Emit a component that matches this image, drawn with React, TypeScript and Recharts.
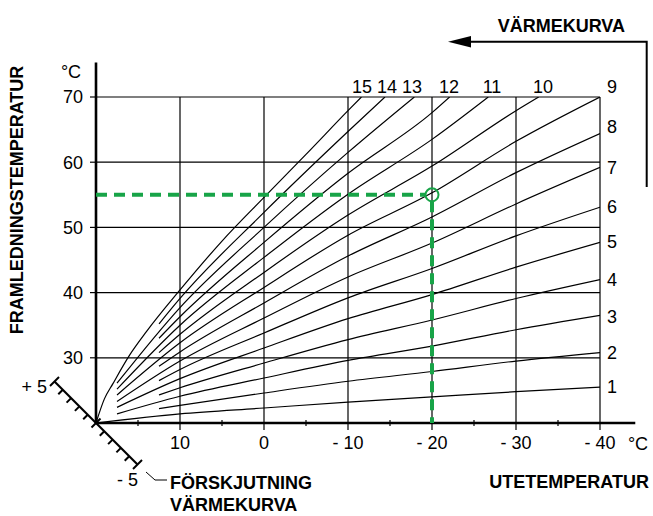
import React from 'react';
import { LineChart, Line, XAxis, YAxis, CartesianGrid, ReferenceLine, ReferenceDot } from 'recharts';

const FONT = '"Liberation Sans", Arial, Helvetica, sans-serif';
const GREEN = '#18a448';

// Outdoor temperature (x) ticks and flow temperature (y) ticks
const xTicks = [10, 0, -10, -20, -30, -40];
const xMinorTicks = [15, 5, -5, -15, -25, -35];
const yTicks = [30, 40, 50, 60, 70];

// Heating curves 1..15: [outdoor temp, flow temp]
const curve1 = [[20, 20], [10, 21.4], [0, 22.3], [-10, 23.2], [-20, 24.0], [-30, 24.8], [-40, 25.5]];
const curve2 = [[12.5, 22.2], [10, 22.7], [0, 24.6], [-10, 26.4], [-20, 27.9], [-30, 29.5], [-40, 30.8]];
const curve3 = [[17.5, 21.4], [10, 24.1], [0, 26.9], [-10, 29.6], [-20, 31.8], [-30, 34.3], [-40, 36.5]];
const curve4 = [[12.5, 24.3], [10, 25.4], [0, 29.2], [-10, 32.8], [-20, 35.8], [-30, 39.1], [-40, 42.0]];
const curve5 = [[17.5, 22.4], [10, 26.8], [0, 31.5], [-10, 36.0], [-20, 39.7], [-30, 43.9], [-40, 47.7]];
const curve6 = [[12.5, 26.5], [10, 28.2], [0, 33.8], [-10, 39.2], [-20, 43.7], [-30, 48.7], [-40, 53.1]];
const curve7 = [[17.5, 23.3], [10, 29.5], [0, 36.1], [-10, 42.4], [-20, 47.6], [-30, 53.6], [-40, 59.2]];
const curve8 = [[12.5, 28.7], [10, 30.9], [0, 38.4], [-10, 45.6], [-20, 51.6], [-30, 58.4], [-40, 64.4]];
const curve9 = [[17.5, 24.3], [10, 32.3], [0, 40.8], [-10, 48.8], [-20, 55.3], [-30, 63.2], [-40, 70]];
const curve10 = [[12.5, 30.8], [10, 33.6], [0, 43.1], [-10, 51.9], [-20, 59.4], [-30, 67.9], [-32.7, 70]];
const curve11 = [[17.5, 25.2], [10, 35.0], [0, 45.4], [-10, 55.1], [-20, 63.5], [-26.7, 70]];
const curve12 = [[12.5, 33.0], [10, 36.3], [0, 47.7], [-10, 58.3], [-20, 67.6], [-22.1, 70]];
const curve13 = [[17.5, 26.1], [10, 37.7], [0, 50.0], [-10, 61.5], [-17.9, 70]];
const curve14 = [[12.5, 35.2], [10, 39.1], [0, 52.3], [-10, 64.7], [-14.4, 70]];
const curve15 = [[20, 20], [19, 23.7], [18, 26.0], [16, 30.4], [14, 34.0], [10, 40.4], [5, 47.9], [0, 54.6], [-5, 61.2], [-10, 67.9], [-11.6, 70]];

const curves = [curve1, curve2, curve3, curve4, curve5, curve6, curve7, curve8, curve9, curve10, curve11, curve12, curve13, curve14, curve15];

// Example reading: outdoor -20 °C gives 55 °C flow
const exampleOutdoor = -20;
const exampleFlow = 55;

const toPoints = (c: number[][]) => c.map(([x, y]) => ({ x, y }));
const fmtX = (v: number) => (v < 0 ? `- ${-v}` : `${v}`);

const labelStyle: React.CSSProperties = { fontFamily: FONT, fontSize: 18, fill: '#000' };
const boldStyle: React.CSSProperties = { fontFamily: FONT, fontSize: 18, fontWeight: 'bold', fill: '#000' };

// curve number labels (pixel placement of annotation text)
const topLabels: [string, number][] = [['15', 362], ['14', 387], ['13', 412], ['12', 449], ['11', 492], ['10', 543], ['9', 612]];
const rightLabels: [string, number][] = [['8', 132.5], ['7', 173.5], ['6', 212.5], ['5', 248], ['4', 286], ['3', 322.5], ['2', 359], ['1', 393]];

function ShiftScale() {
  const ox = 96, oy = 423;
  const step = 8.3;
  const items: React.ReactNode[] = [];
  items.push(<line key="d" x1={ox - 5 * step} y1={oy - 5 * step} x2={ox + 5 * step} y2={oy + 5 * step} stroke="#000" strokeWidth={2.2} />);
  for (let i = -5; i <= 5; i++) {
    const cx = ox + i * step, cy = oy + i * step;
    if (i === 0 || Math.abs(i) === 5) {
      items.push(<line key={'c' + i} x1={cx - 4.5} y1={cy + 4.5} x2={cx + 4.5} y2={cy - 4.5} stroke="#000" strokeWidth={2} />);
    } else {
      items.push(<line key={'t' + i} x1={cx} y1={cy} x2={cx - 4.5} y2={cy + 4.5} stroke="#000" strokeWidth={2} />);
    }
  }
  return <g>{items}</g>;
}

export default function App() {
  return (
    <div style={{ position: 'absolute', left: 0, top: 0, width: 653, height: 516, background: '#fff' }}>
      <LineChart width={653} height={516} margin={{ top: 97, right: 53, bottom: 53, left: 56 }}>
        <CartesianGrid stroke="#000" strokeWidth={1.2} />
        <XAxis
          type="number"
          dataKey="x"
          domain={[-40, 20]}
          reversed
          allowDataOverflow
          ticks={xTicks}
          interval={0}
          tickFormatter={fmtX}
          axisLine={false}
          tickLine={{ stroke: '#000', strokeWidth: 1.2 }}
          tickSize={7}
          tickMargin={6}
          tick={{ fill: '#000', fontSize: 18, fontFamily: FONT }}
          height={40}
        />
        <YAxis
          type="number"
          dataKey="y"
          domain={[20, 70]}
          allowDataOverflow
          ticks={yTicks}
          interval={0}
          axisLine={false}
          tickLine={{ stroke: '#000', strokeWidth: 1.2 }}
          tickSize={6}
          tickMargin={7}
          tick={{ fill: '#000', fontSize: 18, fontFamily: FONT }}
          width={40}
        />
        {curves.map((c, i) => (
          <Line
            key={i}
            data={toPoints(c)}
            dataKey="y"
            type="monotone"
            stroke="#000"
            strokeWidth={1.2}
            dot={false}
            activeDot={false}
            isAnimationActive={false}
          />
        ))}
        <ReferenceLine segment={[{ x: 20, y: 20 }, { x: 20, y: 75.3 }]} stroke="#000" strokeWidth={2.6} ifOverflow="visible" />
        <ReferenceLine segment={[{ x: 20, y: 20 }, { x: -44.2, y: 20 }]} stroke="#000" strokeWidth={2.6} ifOverflow="visible" />
        {xMinorTicks.map((v) => (
          <ReferenceLine key={v} segment={[{ x: v, y: 19.55 }, { x: v, y: 20.45 }]} stroke="#000" strokeWidth={1.2} ifOverflow="visible" />
        ))}
        <ReferenceLine segment={[{ x: 20, y: exampleFlow }, { x: exampleOutdoor + 0.8, y: exampleFlow }]} stroke={GREEN} strokeWidth={4} strokeDasharray="11 7" ifOverflow="visible" />
        <ReferenceLine segment={[{ x: exampleOutdoor, y: exampleFlow - 1 }, { x: exampleOutdoor, y: 20 }]} stroke={GREEN} strokeWidth={4} strokeDasharray="11 7" ifOverflow="visible" />
        <ReferenceDot x={exampleOutdoor} y={exampleFlow} r={6.5} fill="none" stroke={GREEN} strokeWidth={2} ifOverflow="visible" />
      </LineChart>
      <svg width={653} height={516} style={{ position: 'absolute', left: 0, top: 0, pointerEvents: 'none' }}>
        <polyline points="646.7,187 646.7,41.7 470,41.7" fill="none" stroke="#000" strokeWidth={2} />
        <polygon points="448,41.7 471,36 471,47.4" fill="#000" />
        <text x={625} y={31.5} style={boldStyle} textAnchor="end">VÄRMEKURVA</text>
        <text transform="translate(23,200) rotate(-90)" style={boldStyle} textAnchor="middle">FRAMLEDNINGSTEMPERATUR</text>
        <text x={71} y={77.5} style={labelStyle} textAnchor="middle">°C</text>
        <text x={638} y={449.5} style={labelStyle} textAnchor="middle">°C</text>
        <text x={649} y={488} style={boldStyle} textAnchor="end">UTETEMPERATUR</text>
        {topLabels.map(([t, x]) => (
          <text key={t} x={x} y={92.5} style={labelStyle} textAnchor="middle">{t}</text>
        ))}
        {rightLabels.map(([t, y]) => (
          <text key={t} x={612} y={y} style={labelStyle} textAnchor="middle">{t}</text>
        ))}
        <ShiftScale />
        <text x={47} y={392.5} style={labelStyle} textAnchor="end">+ 5</text>
        <text x={138} y={485.5} style={labelStyle} textAnchor="end">- 5</text>
        <polyline points="146,472 155,480 167,480" fill="none" stroke="#000" strokeWidth={1} />
        <text x={170} y={489} style={boldStyle}>FÖRSKJUTNING</text>
        <text x={170} y={511} style={boldStyle}>VÄRMEKURVA</text>
      </svg>
    </div>
  );
}
